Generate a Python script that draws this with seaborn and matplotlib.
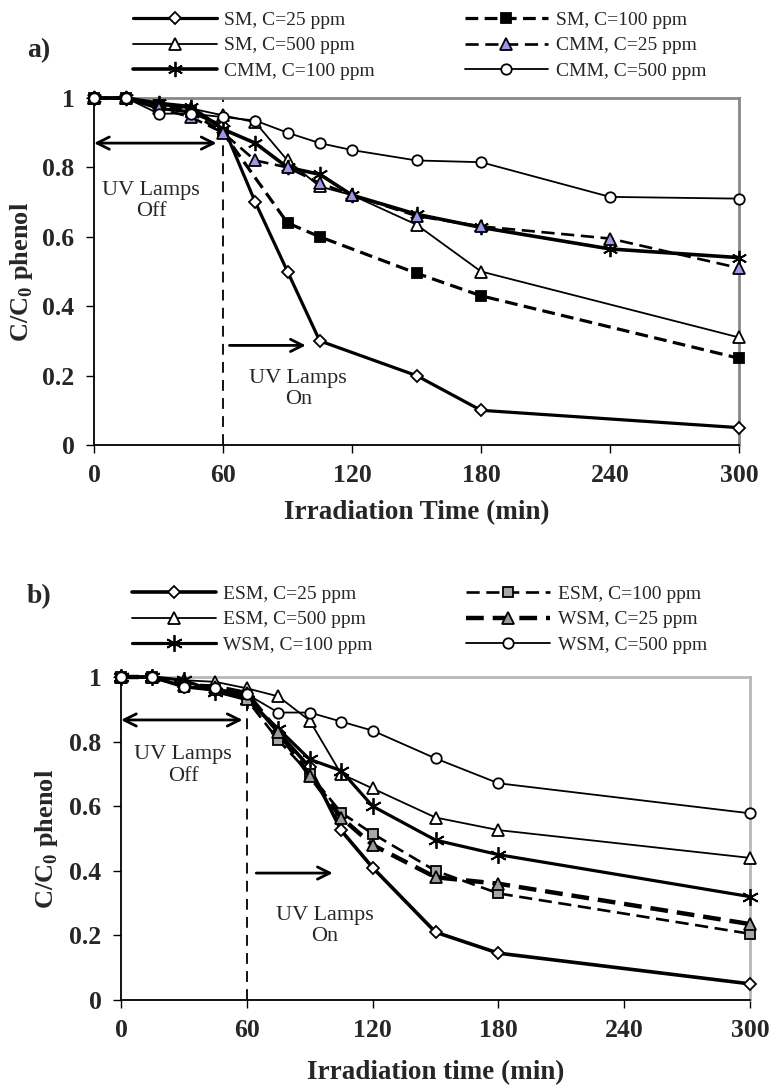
import seaborn as sns
import matplotlib.pyplot as plt

# ---- panel a) ----
t_sm25 = [0, 15, 30, 45, 60, 75, 90, 105, 150, 180, 300]
c_sm25 = [1, 1, 0.97, 0.96, 0.92, 0.70, 0.50, 0.30, 0.20, 0.10, 0.05]
t_sm100 = [0, 15, 30, 45, 60, 90, 105, 150, 180, 300]
c_sm100 = [1, 1, 0.98, 0.96, 0.90, 0.64, 0.60, 0.495, 0.43, 0.25]
t_sm500 = [0, 15, 30, 45, 60, 75, 90, 105, 120, 150, 180, 300]
c_sm500 = [1, 1, 0.98, 0.97, 0.95, 0.93, 0.82, 0.745, 0.72, 0.635, 0.50, 0.31]
t_cmm = [0, 15, 30, 45, 60, 75, 90, 105, 120, 150, 180, 240, 300]
c_cmm25 = [1, 1, 0.97, 0.945, 0.90, 0.82, 0.80, 0.755, 0.72, 0.66, 0.63, 0.595, 0.51]
c_cmm100 = [1, 1, 0.985, 0.975, 0.91, 0.87, 0.80, 0.78, 0.72, 0.665, 0.627, 0.565, 0.54]
c_cmm500 = [1, 1, 0.955, 0.955, 0.945, 0.935, 0.90, 0.87, 0.85, 0.82, 0.815, 0.715, 0.71]

# ---- panel b) ----
t_b = [0, 15, 30, 45, 60, 75, 90, 105, 120, 150, 180, 300]
c_esm25 = [1, 1, 0.97, 0.96, 0.94, 0.83, 0.72, 0.525, 0.41, 0.21, 0.145, 0.05]
c_esm100 = [1, 1, 0.97, 0.96, 0.93, 0.805, 0.70, 0.58, 0.515, 0.40, 0.33, 0.205]
c_esm500 = [1, 1, 0.99, 0.985, 0.965, 0.94, 0.865, 0.70, 0.655, 0.565, 0.526, 0.44]
c_wsm25 = [1, 1, 0.975, 0.97, 0.95, 0.83, 0.695, 0.565, 0.48, 0.38, 0.36, 0.235]
c_wsm100 = [1, 1, 0.99, 0.955, 0.93, 0.84, 0.745, 0.71, 0.60, 0.495, 0.45, 0.32]
c_wsm500 = [1, 1, 0.97, 0.965, 0.947, 0.89, 0.89, 0.862, 0.834, 0.748, 0.671, 0.578]

x_ticks = [0, 60, 120, 180, 240, 300]
y_ticks = [0, 0.2, 0.4, 0.6, 0.8, 1]
y_ticklabels = ['0', '0.2', '0.4', '0.6', '0.8', '1']

sns.set_theme(style='white')
plt.rcParams['font.family'] = ['Liberation Serif', 'DejaVu Serif']
plt.rcParams['mathtext.fontset'] = 'custom'
plt.rcParams['mathtext.bf'] = 'Liberation Serif:bold'
plt.rcParams['mathtext.rm'] = 'Liberation Serif'

STAR = (6, 2, 0)
DASH = (0, (4, 2))

series_a = [
    (t_sm25, c_sm25, 'SM, C=25 ppm', dict(marker='D', ms=6.5, mfc='white', lw=2.3, ls='-')),
    (t_sm500, c_sm500, 'SM, C=500 ppm', dict(marker='^', ms=8, mfc='white', lw=1.3, ls='-')),
    (t_cmm, c_cmm100, 'CMM, C=100 ppm', dict(marker=STAR, ms=11, mfc='black', lw=2.6, ls='-')),
    (t_sm100, c_sm100, 'SM, C=100 ppm', dict(marker='s', ms=6.5, mfc='black', lw=2.3, ls=DASH)),
    (t_cmm, c_cmm25, 'CMM, C=25 ppm', dict(marker='^', ms=8, mfc='#9a9ae8', lw=1.9, ls=(0, (5, 2.5)))),
    (t_cmm, c_cmm500, 'CMM, C=500 ppm', dict(marker='o', ms=7.5, mfc='white', lw=1.3, ls='-')),
]

series_b = [
    (t_b, c_esm25, 'ESM, C=25 ppm', dict(marker='D', ms=6.5, mfc='white', lw=2.6, ls='-')),
    (t_b, c_esm500, 'ESM, C=500 ppm', dict(marker='^', ms=9, mfc='white', lw=1.3, ls='-')),
    (t_b, c_wsm100, 'WSM, C=100 ppm', dict(marker=STAR, ms=12, mfc='black', lw=2.3, ls='-')),
    (t_b, c_esm100, 'ESM, C=100 ppm', dict(marker='s', ms=7, mfc='#a6a6a6', lw=1.9, ls=(0, (5, 2.5)))),
    (t_b, c_wsm25, 'WSM, C=25 ppm', dict(marker='^', ms=8.5, mfc='#999999', lw=3.2, ls=(0, (4, 2)))),
    (t_b, c_wsm500, 'WSM, C=500 ppm', dict(marker='o', ms=7.5, mfc='white', lw=1.3, ls='-')),
]

fig = plt.figure(figsize=(7.71, 10.86), dpi=100)
ax_a = fig.add_axes([94 / 771, 1 - 445 / 1086, 645 / 771, 347 / 1086])
ax_b = fig.add_axes([121 / 771, 1 - 1000 / 1086, 629 / 771, 323 / 1086])


def draw_panel(ax, series, top_color, xlabel, xl_y, yl_x, legend_xy, colspace, tag, tag_y):
    for t, c, lab, st in series:
        sns.lineplot(x=t, y=c, ax=ax, color='black', label=lab,
                     marker=st['marker'], markersize=st['ms'],
                     markerfacecolor=st['mfc'], markeredgecolor='black',
                     mew=1.3, linewidth=st['lw'], linestyle=st['ls'],
                     clip_on=False, zorder=3)
    handles, labels = ax.get_legend_handles_labels()
    if ax.get_legend() is not None:
        ax.get_legend().remove()

    ax.axvline(60, color='black', lw=1.3, ls=(0, (6, 4)), zorder=1)
    ax.set_xlim(0, 300)
    ax.set_ylim(0, 1)
    ax.set_xticks(x_ticks)
    ax.set_xticklabels([str(v) for v in x_ticks])
    ax.set_yticks(y_ticks)
    ax.set_yticklabels(y_ticklabels)
    ax.tick_params(axis='both', which='major', direction='out', length=6,
                   width=1, color='black', labelsize=18.5, pad=8,
                   bottom=True, left=True)
    for lbl in ax.get_xticklabels() + ax.get_yticklabels():
        lbl.set_fontweight('bold')
    for side in ['left', 'bottom']:
        ax.spines[side].set_color('black')
        ax.spines[side].set_linewidth(1.3)
    for side in ['top', 'right']:
        ax.spines[side].set_color(top_color)
        ax.spines[side].set_linewidth(2)

    ax.set_xlabel(xlabel, fontsize=19.5, fontweight='bold', va='center')
    ax.xaxis.set_label_coords(0.5, xl_y)
    ax.set_ylabel(r'C/C$_\mathbf{0}$ phenol', fontsize=19, fontweight='bold', va='center')
    ax.yaxis.set_label_coords(yl_x, 0.5)

    fig.legend(handles, labels, ncol=2, loc='upper left',
               bbox_to_anchor=legend_xy, frameon=False, fontsize=14,
               handlelength=4.3, handletextpad=0.4, columnspacing=colspace,
               labelspacing=0.42, borderpad=0, borderaxespad=0, numpoints=1)
    fig.text(27 / 771, tag_y, tag, fontsize=20, fontweight='bold', va='center', ha='left')


draw_panel(ax_a, series_a, '#888888', 'Irradiation Time (min)', -0.196, -0.112,
           (133 / 771, 1 - 11 / 1086), 4.6, 'a)', 1 - 51 / 1086)
draw_panel(ax_b, series_b, '#b8b8b8', 'Irradiation time (min)', -0.226, -0.118,
           (132 / 771, 1 - 585 / 1086), 4.8, 'b)', 1 - 597 / 1086)

arrow = dict(arrowstyle='<->', lw=2, color='black', mutation_scale=22, shrinkA=0, shrinkB=0)
right_arrow = dict(arrowstyle='->', lw=2, color='black', mutation_scale=22, shrinkA=0, shrinkB=0)

ax_a.annotate('', xy=(0, 0.87), xytext=(57, 0.87), arrowprops=arrow)
ax_a.text(26.5, 0.703, 'UV Lamps\nOff', ha='center', va='center', fontsize=16, linespacing=1.15)
ax_a.annotate('', xy=(98.5, 0.287), xytext=(63, 0.287), arrowprops=right_arrow)
ax_a.text(95, 0.162, 'UV Lamps\nOn', ha='center', va='center', fontsize=16, linespacing=1.15)

ax_b.annotate('', xy=(0, 0.867), xytext=(58, 0.867), arrowprops=arrow)
ax_b.text(29.6, 0.726, 'UV Lamps\nOff', ha='center', va='center', fontsize=16, linespacing=1.15)
ax_b.annotate('', xy=(101, 0.393), xytext=(64.5, 0.393), arrowprops=right_arrow)
ax_b.text(97, 0.228, 'UV Lamps\nOn', ha='center', va='center', fontsize=16, linespacing=1.15)

fig.savefig('out.png', dpi=100)
